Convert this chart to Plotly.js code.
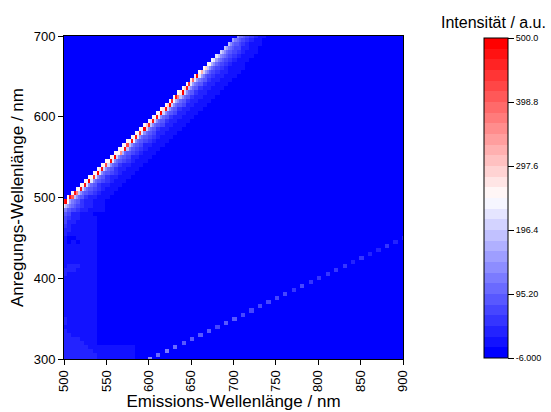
<!DOCTYPE html>
<html>
<head>
<meta charset="utf-8">
<script src="https://cdn.plot.ly/plotly-3.0.1.min.js"></script>
<style>html,body{margin:0;padding:0;background:#fff}#chart{width:551px;height:412px}</style>
</head>
<body>
<div id="chart"></div>
<script>
var xTitle = "Emissions-Wellenlänge / nm";
var yTitle = "Anregungs-Wellenlänge / nm";
var barTitle = "Intensität / a.u.";
var xTicks = [500, 550, 600, 650, 700, 750, 800, 850, 900];
var yTicks = [300, 400, 500, 600, 700];
var barTickVals = [-6, 95.2, 196.4, 297.6, 398.8, 500];
var barTickText = ["-6.000", "95.20", "196.4", "297.6", "398.8", "500.0"];

// background-level rows, excitation 300..485 nm step 5, emission from 500 nm step 5
var lowRows = [
[38,38,38,38,38,38,38,38,18,18,18,18,18,18,18,18,18],
[38,38,36,36,34,34,30,30,18,18,18,18,18,18,18,18,18,5],
[30,30,30,30,30,30,30,18,18,18,18,18,18,18,18,18,18],
[30,30,30,30,30,28,26,26,16,18,16,18,18,18,16,18,16],
[28,28,28,28,28,22,22,22],
[30,30,28,28,22,22,22,22],
[30,28,22,22,22,22,22,22],
[32,22,22,22,22,22,22,22],
[24,22,22,22,22,22,22,22],
[30,22,22,22,22,22,22,22],
[30,22,22,22,22,22,22,22],
[22,22,22,22,22,22,22,22],
[22,22,22,22,22,22,22,22],
[22,22,22,22,22,22,22,22],
[22,22,22,22,22,22,22,22],
[22,22,22,22,22,22,22,22],
[22,22,22,22,22,22,22,22],
[22,22,22,22,22,22,22,22],
[22,22,22,22,22,22,22,22],
[22,22,22,22,22,22,22,22],
[22,22,22,22,22,22,22,22],
[30,22,22,22,22,22,22,22],
[34,34,34,22,22,22,22,22],
[22,36,36,34,22,22,22,22],
[22,22,22,22,22,22,22,22],
[22,22,22,22,22,22,22,22],
[22,22,22,22,22,22,22,22],
[22,22,22,22,22,22,22,22],
[12,22,22,22,22,22,22,22],
[22,8,22,8,22,22,22,22],
[22,8,8,22,22,22,22,22],
[30,24,22,22,22,22,22,22],
[38,28,22,22,22,22,22,22],
[50,34,26,22,22,22,12,22],
[62,40,30,24,22,22,22,22],
[74,50,36,28,24,22,22,22],
[92,64,44,32,26,24,22,8],
[125,90,62,46,36,30,22,16,16,16]
];

// second-order line: excitation 300..450 nm step 5, one cell each at twice that emission
var secondOrder = [135,110,115,100,92,82,95,88,78,82,86,70,78,72,74,64,70,54,68,48,58,54,46,50,38,56,28,44,46,30,36];

// first-order band: excitation nm, first emission nm, head cells at 2.5 nm, tail cells at 5 nm
var bandExcitation = [490,495,500,505,510,515,520,525,530,535,540,545,550,555,560,565,570,575,580,585,590,595,600,605,610,615,620,625,630,635,640,645,650,655,660,665,670,675,680,685,690,695,700];
var bandStart = [500,500,505,510,515,520,525,530,535,540,545,550,555,560,565,570,575,580,585,590,595,600,605,610,615,620,625,630,635,640,645,650,655,660,665,670,675,680,685,690,695,700,705];
var bandHead = [
[225,185,150,125,105,92],
[480,490,260,160,120,96],
[255,470,400,190,130,100],
[250,470,370,190,130,100],
[255,260,480,205,135,102],
[250,255,470,225,140,105],
[255,260,490,215,135,104],
[250,255,440,215,135,100],
[255,260,490,225,140,105],
[250,270,480,210,135,104],
[255,255,420,205,130,100],
[255,255,470,225,135,100],
[250,260,490,205,135,104],
[255,255,255,360,165,112],
[255,255,255,470,185,120],
[250,255,430,195,135,104],
[255,255,470,235,140,105],
[255,260,480,225,140,105],
[250,255,440,215,140,105],
[255,255,490,205,130,100],
[255,300,450,195,135,104],
[255,270,480,205,130,100],
[250,255,470,225,135,100],
[255,255,490,210,140,105],
[255,270,470,200,135,100],
[255,290,490,210,135,104],
[260,450,245,170,130,100],
[255,480,370,190,130,100],
[255,270,490,205,135,104],
[255,290,470,195,130,100],
[260,440,215,160,125,98],
[265,390,215,155,125,98],
[270,490,225,155,120,95],
[260,330,200,150,118,95],
[262,290,190,140,112,92],
[255,260,175,135,108,90],
[240,215,160,125,104,88],
[225,190,145,118,98,84],
[210,170,135,110,94,80],
[195,155,122,102,88,76],
[180,140,110,92,80,70],
[160,125,102,88,76,66],
[138,112,96,84,72,64]
];
var bandTail = [
[76,56,40,30,22,16,12],
[82,60,44,32,24,16,12],
[82,60,44,32,24,16,12],
[84,62,46,34,24,16,12],
[84,62,46,34,24,16,12],
[82,60,44,32,24,16,12],
[84,62,46,34,24,16,12],
[82,60,44,32,24,16,12],
[84,62,46,34,24,16,12],
[82,60,44,32,24,16,12],
[82,60,44,32,24,16,12],
[84,62,46,34,24,16,12],
[84,62,44,32,24,16,12],
[88,64,48,34,24,16,12],
[90,66,48,36,24,16,12],
[84,62,44,32,24,16,12],
[84,62,46,34,24,16,12],
[86,62,46,34,24,16,12],
[84,62,44,32,24,16,12],
[82,60,44,32,24,16,12],
[84,62,44,32,24,16,12],
[82,60,44,32,24,16,12],
[82,60,44,32,24,16,12],
[84,62,44,32,24,16,12],
[82,60,44,32,24,16,12],
[84,62,44,32,24,16,12],
[82,60,44,32,22,16,12],
[82,60,42,30,22,16,12],
[84,60,44,30,22,16,12],
[82,58,42,30,22,16,12],
[80,58,42,30,22,16,12],
[80,58,42,30,20,16,12],
[78,56,40,30,20,16,12],
[78,54,38,28,20,14,12],
[76,52,38,26,20,14,12],
[72,50,36,26,18,14],
[70,50,34,24,18,14],
[66,48,32,22,16,14],
[64,46,32,22,16,14],
[62,44,30,20,14],
[58,40,26,18,14],
[54,38,24,16],
[52,34,22,14]
];

var nBands = 30;
var zMin = -6, zMax = 500;
var emCount = 161, exCount = 81;
var background = 0;

var z = [];
for (var r = 0; r < exCount; r++) {
  var row = [];
  for (var c = 0; c < emCount; c++) row.push(background);
  z.push(row);
}
lowRows.forEach(function (vals, r) {
  vals.forEach(function (v, i) {
    z[r][i * 2] = v;
    z[r][i * 2 + 1] = v;
  });
});
secondOrder.forEach(function (v, i) {
  var col = Math.round((2 * (300 + i * 5) - 500) / 2.5);
  z[i][col] = v;
  if (col + 1 < emCount) z[i][col + 1] = v;
});
bandExcitation.forEach(function (ex, k) {
  var r = (ex - 300) / 5;
  var col = Math.round((bandStart[k] - 500) / 2.5);
  bandHead[k].forEach(function (v) { z[r][col++] = v; });
  bandTail[k].forEach(function (v) { z[r][col++] = v; z[r][col++] = v; });
});

function bandColor(i) {
  var mid = (nBands - 1) / 2;
  var t;
  if (i < mid) { t = Math.round(255 * i / mid); return "rgb(" + t + "," + t + ",255)"; }
  t = Math.round(255 * (nBands - 1 - i) / mid);
  return "rgb(255," + t + "," + t + ")";
}
var scale = [];
for (var b = 0; b < nBands; b++) {
  scale.push([b / nBands, bandColor(b)]);
  scale.push([(b + 1) / nBands, bandColor(b)]);
}

var font = "Liberation Sans, Arial, sans-serif";
var trace = {
  type: "heatmap",
  z: z,
  x0: 500, dx: 2.5,
  y0: 300, dy: 5,
  zmin: zMin, zmax: zMax,
  zsmooth: false,
  colorscale: scale,
  colorbar: {
    thickness: 24,
    thicknessmode: "pixels",
    len: 320,
    lenmode: "pixels",
    x: 1.2375,
    xanchor: "left",
    xpad: 0,
    y: 0.9938,
    yanchor: "top",
    ypad: 0,
    outlinecolor: "#000",
    outlinewidth: 1,
    tickmode: "array",
    tickvals: barTickVals,
    ticktext: barTickText,
    ticks: "outside",
    ticklen: 6,
    tickwidth: 1,
    tickcolor: "#000",
    tickfont: {family: font, size: 9, color: "#000"}
  }
};
var axisCommon = {
  showgrid: false,
  zeroline: false,
  showline: true,
  linecolor: "#000",
  linewidth: 1,
  mirror: true,
  ticks: "outside",
  ticklen: 5,
  tickwidth: 1,
  tickcolor: "#000",
  tickmode: "array",
  tickfont: {family: font, size: 13, color: "#000"}
};
var layout = {
  width: 551,
  height: 412,
  paper_bgcolor: "#fff",
  plot_bgcolor: "#00f",
  margin: {l: 64, r: 148, t: 36, b: 53, pad: 0, autoexpand: false},
  xaxis: Object.assign({}, axisCommon, {
    range: [500, 900],
    tickvals: xTicks,
    ticktext: xTicks.map(String),
    tickangle: -90,
    title: {text: xTitle, font: {family: font, size: 17, color: "#000"}, standoff: 1}
  }),
  yaxis: Object.assign({}, axisCommon, {
    range: [300, 700],
    tickvals: yTicks,
    ticktext: yTicks.map(String),
    title: {text: yTitle, font: {family: font, size: 17, color: "#000"}, standoff: 5}
  }),
  annotations: [{
    xref: "paper", yref: "paper",
    x: 1.268, y: 1.01,
    xanchor: "center", yanchor: "bottom",
    showarrow: false,
    text: barTitle,
    font: {family: font, size: 16, color: "#000"}
  }]
};
Plotly.newPlot("chart", [trace], layout, {displayModeBar: false, staticPlot: true});
</script>
</body>
</html>
